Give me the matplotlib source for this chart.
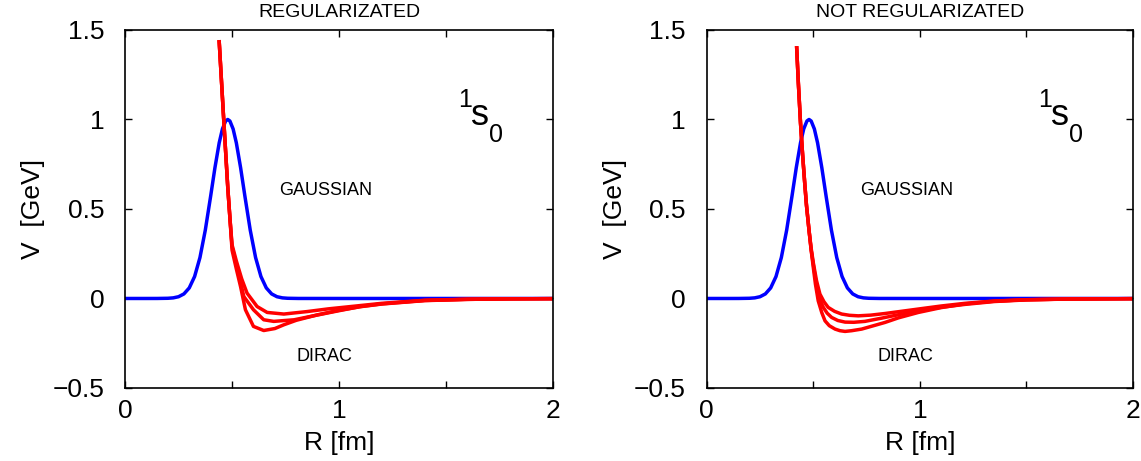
import matplotlib
matplotlib.use("Agg")
import matplotlib.pyplot as plt

plt.rcParams['font.family'] = ['Liberation Sans', 'DejaVu Sans']

# Gaussian potential (same in both panels)
r_gauss = [0.0, 0.1, 0.15, 0.2, 0.225, 0.25, 0.275, 0.3, 0.325, 0.35, 0.375, 0.4, 0.42,
           0.44, 0.455, 0.47, 0.48, 0.49, 0.505, 0.52, 0.54, 0.56, 0.585, 0.61, 0.635,
           0.66, 0.685, 0.71, 0.735, 0.76, 0.81, 1.0, 1.5, 2.0]
v_gauss = [0.0, 0.0, 0.0001, 0.0011, 0.0034, 0.0098, 0.0254, 0.059, 0.1226, 0.2285,
           0.3818, 0.5718, 0.7302, 0.8696, 0.9469, 0.9913, 1.0, 0.9913, 0.9469, 0.8696,
           0.7302, 0.5718, 0.3818, 0.2285, 0.1226, 0.059, 0.0254, 0.0098, 0.0034, 0.0011,
           0.0001, 0.0, 0.0, 0.0]

# Dirac potentials, regularizated
reg_r1 = [0.44, 0.461, 0.48, 0.49, 0.50, 0.52, 0.545, 0.570, 0.617, 0.664, 0.742, 0.852,
          0.95, 1.055, 1.2, 1.4, 1.6, 1.8, 2.0]
reg_v1 = [1.434, 1.0, 0.62, 0.45, 0.30, 0.21, 0.11, 0.03, -0.045, -0.078, -0.087, -0.073,
          -0.058, -0.045, -0.027, -0.01, -0.004, -0.002, -0.001]
reg_r2 = [0.44, 0.461, 0.48, 0.49, 0.50, 0.52, 0.54, 0.555, 0.60, 0.648, 0.695, 0.79,
          0.88, 0.98, 1.1, 1.2, 1.4, 1.6, 1.8, 2.0]
reg_v2 = [1.434, 1.0, 0.62, 0.45, 0.29, 0.19, 0.09, 0.011, -0.063, -0.119, -0.128, -0.119,
          -0.097, -0.073, -0.045, -0.03, -0.011, -0.005, -0.002, -0.001]
reg_r3 = [0.44, 0.461, 0.48, 0.49, 0.50, 0.52, 0.54, 0.5625, 0.60, 0.648, 0.70, 0.742,
          0.80, 0.90, 1.0, 1.1, 1.2, 1.4, 1.6, 1.8, 2.0]
reg_v3 = [1.434, 1.0, 0.62, 0.45, 0.27, 0.165, 0.065, -0.063, -0.156, -0.179, -0.168,
          -0.147, -0.122, -0.091, -0.066, -0.046, -0.031, -0.012, -0.005, -0.002, -0.001]

# Dirac potentials, not regularizated
nreg_r1 = [0.422, 0.43, 0.44, 0.45, 0.46, 0.468, 0.48, 0.49, 0.50, 0.515, 0.531, 0.55,
           0.57, 0.60, 0.633, 0.67, 0.711, 0.77, 0.836, 0.93, 1.024, 1.1, 1.212, 1.35,
           1.5, 1.7, 2.0]
nreg_v1 = [1.40, 1.20, 0.98, 0.80, 0.64, 0.52, 0.38, 0.28, 0.20, 0.10, 0.025, -0.018,
           -0.05, -0.072, -0.087, -0.094, -0.097, -0.093, -0.084, -0.069, -0.054, -0.042,
           -0.027, -0.014, -0.007, -0.003, -0.001]
nreg_r2 = [0.422, 0.43, 0.44, 0.45, 0.46, 0.468, 0.48, 0.49, 0.50, 0.516, 0.53, 0.547,
           0.565, 0.586, 0.615, 0.649, 0.69, 0.742, 0.82, 0.915, 1.0, 1.1, 1.212, 1.35,
           1.5, 1.7, 2.0]
nreg_v2 = [1.40, 1.20, 0.98, 0.80, 0.64, 0.52, 0.38, 0.27, 0.19, 0.065, -0.005, -0.05,
           -0.082, -0.106, -0.123, -0.132, -0.133, -0.128, -0.11, -0.087, -0.068, -0.049,
           -0.033, -0.017, -0.008, -0.003, -0.001]
nreg_r3 = [0.422, 0.43, 0.44, 0.45, 0.46, 0.468, 0.48, 0.49, 0.50, 0.51, 0.523, 0.54,
           0.555, 0.575, 0.602, 0.625, 0.649, 0.68, 0.727, 0.78, 0.836, 0.9, 0.993, 1.1,
           1.212, 1.35, 1.5, 1.7, 2.0]
nreg_v3 = [1.40, 1.20, 0.98, 0.80, 0.64, 0.52, 0.38, 0.27, 0.173, 0.08, -0.013, -0.08,
           -0.125, -0.152, -0.171, -0.180, -0.184, -0.180, -0.171, -0.153, -0.134, -0.108,
           -0.078, -0.051, -0.03, -0.015, -0.007, -0.003, -0.001]

x_ticks = [0, 0.5, 1, 1.5, 2]
x_labels = ['0', '', '1', '', '2']
y_ticks = [-0.5, 0, 0.5, 1, 1.5]
y_labels = ['\u22120.5', '0', '0.5', '1', '1.5']

fig = plt.figure(figsize=(11.41, 4.61), dpi=100)
ax1 = fig.add_axes([0.1096, 0.1584, 0.3751, 0.7766])
ax2 = fig.add_axes([0.6194, 0.1584, 0.3736, 0.7766])

panels = [
    (ax1, 'REGULARIZATED', [(reg_r1, reg_v1), (reg_r2, reg_v2), (reg_r3, reg_v3)]),
    (ax2, 'NOT REGULARIZATED', [(nreg_r1, nreg_v1), (nreg_r2, nreg_v2), (nreg_r3, nreg_v3)]),
]

for ax, title, dirac in panels:
    ax.plot(r_gauss, v_gauss, color='#0000ff', lw=2.5, solid_joinstyle='round')
    for rr, vv in dirac:
        ax.plot(rr, vv, color='#ff0000', lw=2.5, solid_joinstyle='round')
    ax.set_xlim(0, 2)
    ax.set_ylim(-0.5, 1.5)
    ax.set_xticks(x_ticks)
    ax.set_xticklabels(x_labels)
    ax.set_yticks(y_ticks)
    ax.set_yticklabels(y_labels)
    ax.tick_params(direction='in', length=5, width=1, top=True, right=True,
                   labelsize=19)
    ax.tick_params(axis='y', pad=15)
    ax.tick_params(axis='x', pad=8)
    for sp in ax.spines.values():
        sp.set_linewidth(1.2)
    ax.set_xlabel('R [fm]', fontsize=19, labelpad=6)
    ax.set_ylabel('V  [GeV]', fontsize=19, labelpad=5)
    ax.set_title(title, fontsize=14, pad=9)
    ax.text(0.936, 0.603, 'GAUSSIAN', fontsize=13, ha='center', va='center')
    ax.text(0.93, -0.322, 'DIRAC', fontsize=13, ha='center', va='center')
    # 1S0 channel label
    ax.text(1.556, 1.071, '1', fontsize=18, ha='left', va='baseline')
    ax.text(1.617, 0.970, 's', fontsize=26, ha='left', va='baseline')
    ax.text(1.702, 0.875, '0', fontsize=18, ha='left', va='baseline')

fig.savefig('out.png', dpi=100)
